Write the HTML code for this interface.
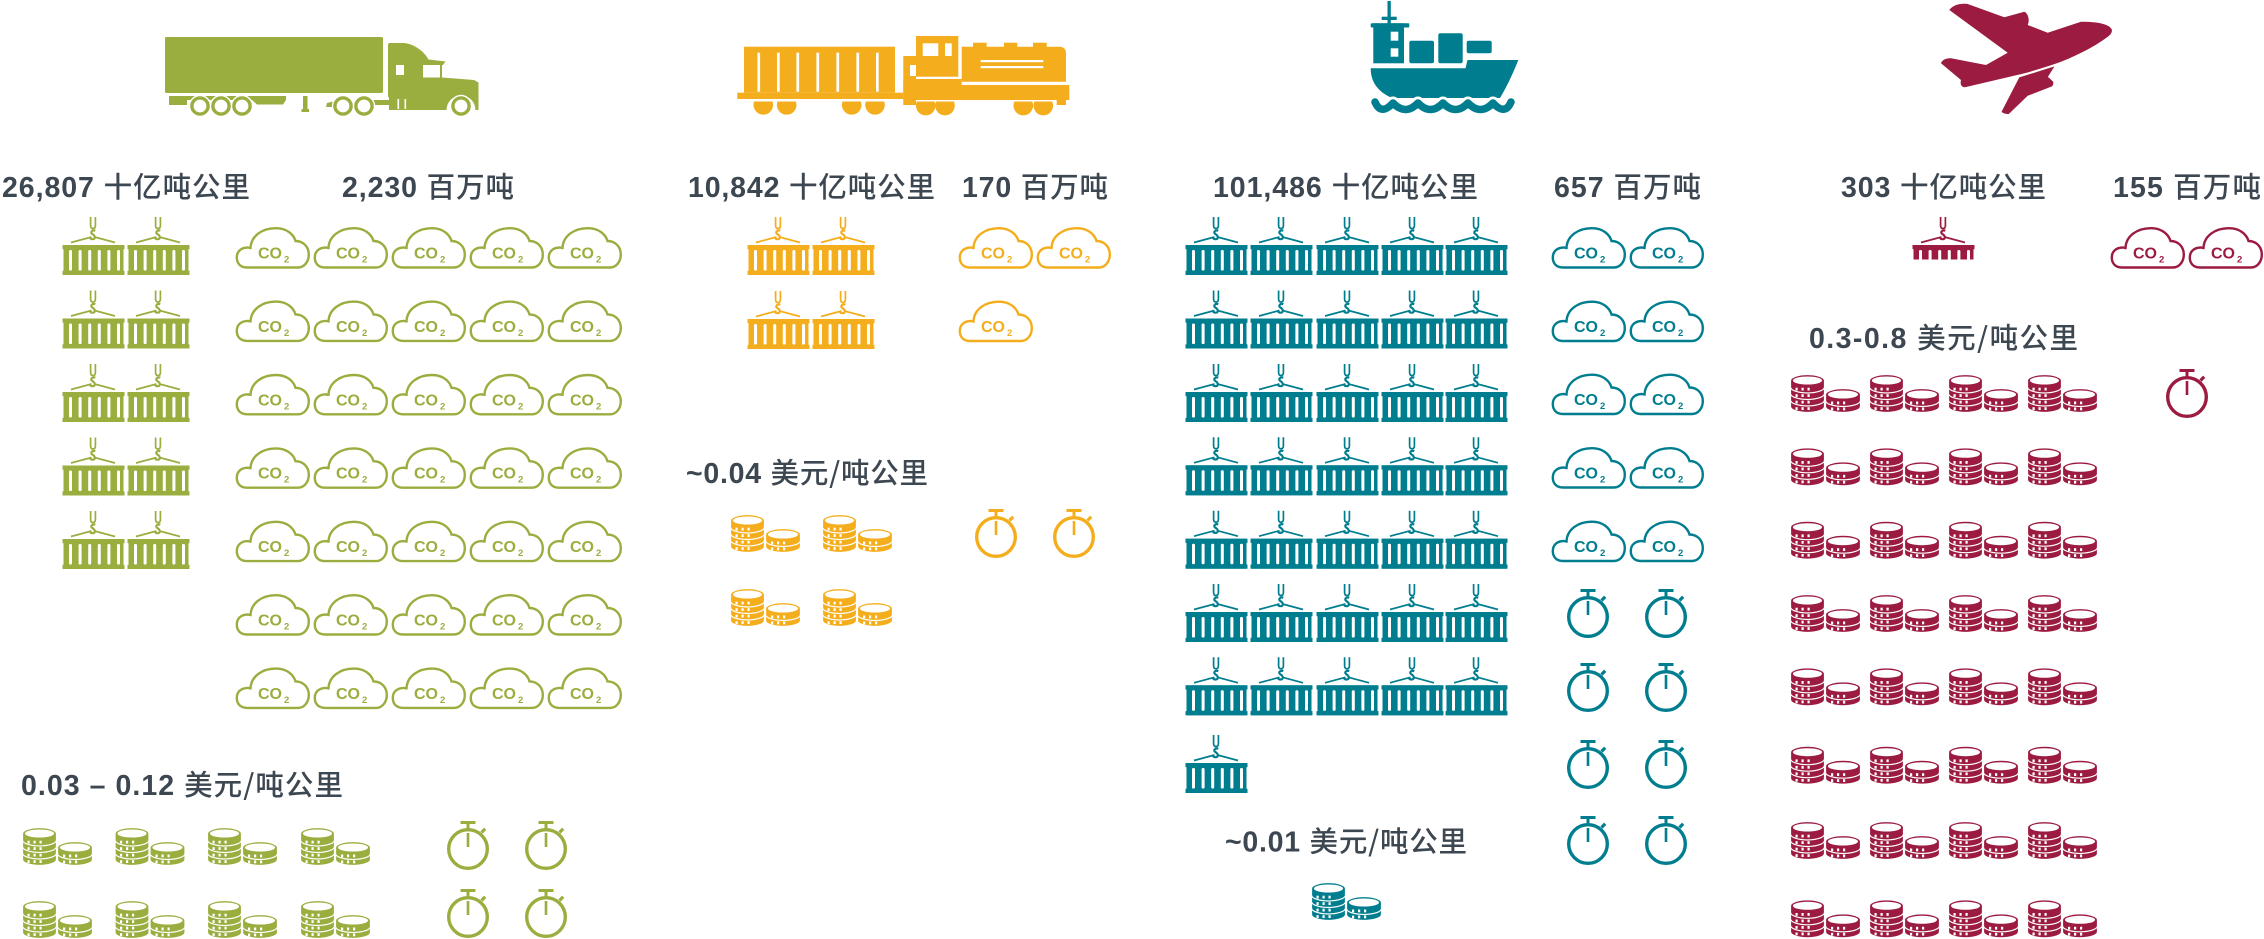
<!DOCTYPE html>
<html><head><meta charset="utf-8"><style>
html,body{margin:0;padding:0;background:#fff;}
svg{display:block}
.lbl{font-family:"Liberation Sans","Noto Sans CJK SC",sans-serif;font-size:28.5px;fill:#3d4751}
.n{font-weight:700;font-family:"Liberation Sans",sans-serif}
.c{font-family:"Noto Sans CJK SC","Liberation Sans",sans-serif;font-weight:500}
.co{font-family:"Liberation Sans",sans-serif;font-weight:700;font-size:16px;fill:currentColor}
.co tspan{font-size:9.5px}
.G{color:#9aae3f}.O{color:#f4ae1d}.T{color:#007e8f}.C{color:#9c1c41}
</style></head><body>
<svg width="2264" height="939" viewBox="0 0 2264 939" xmlns="http://www.w3.org/2000/svg">
<defs>
 <g id="ct">
  <path d="M27.6,0V8.5Q27.6,11.5 30,11.5Q32.4,11.5 32.4,8.5V0" fill="none" stroke="currentColor" stroke-width="1.7"/>
  <path d="M32.3,13.8C29.5,12.5 26.8,15.2 29.2,16.9C32.6,18.8 32.6,22.2 29.6,22.2C28,22.2 27,21.3 26.8,20.2" fill="none" stroke="currentColor" stroke-width="2.2"/>
  <path d="M28.5,20L8,25.5M31.5,20L52,25.5" stroke="currentColor" stroke-width="1.7"/>
  <rect x="0.5" y="28" width="60" height="30" fill="currentColor"/>
  <rect x="-0.5" y="28" width="62" height="4.2" fill="currentColor"/>
  <rect x="-0.5" y="53.8" width="62" height="4.2" fill="currentColor"/>
  <g fill="#fff">
   <rect x="6" y="33" width="3" height="20.5" rx="1.3"/>
   <rect x="15.6" y="33" width="3" height="20.5" rx="1.3"/>
   <rect x="25.2" y="33" width="3" height="20.5" rx="1.3"/>
   <rect x="34.8" y="33" width="3" height="20.5" rx="1.3"/>
   <rect x="44.4" y="33" width="3" height="20.5" rx="1.3"/>
   <rect x="54" y="33" width="3" height="20.5" rx="1.3"/>
  </g>
 </g>
 <path id="cl" d="M11,40.5C4,40.5 0.8,36 0.8,30.5C0.8,24.5 5,20.5 12,20.5C13,20.8 13.8,21 14.5,21C15,9 26,1.2 40,1.2C50.5,1.2 57.5,7 59.5,14C67.5,14 72.8,20 72.8,27.5C72.8,35 68,40.5 62,40.5Z" fill="none" stroke="currentColor" stroke-width="2.4"/>
 <g id="cn">
  <g fill="currentColor" stroke="#fff" stroke-width="1.2">
   <path d="M0.5,26V32.5A17,6 0 0 0 34.5,32.5V26A17,6 0 0 0 0.5,26Z"/>
   <path d="M0.5,19.5V26A17,6 0 0 0 34.5,26V19.5A17,6 0 0 0 0.5,19.5Z"/>
   <path d="M0.5,13V19.5A17,6 0 0 0 34.5,19.5V13A17,6 0 0 0 0.5,13Z"/>
   <path d="M0.5,6.5V13A17,6 0 0 0 34.5,13V6.5A17,6 0 0 0 0.5,6.5Z"/>
   <path d="M35.5,26.5V32.5A17.5,6 0 0 0 70.5,32.5V26.5A17.5,6 0 0 0 35.5,26.5Z"/>
   <path d="M35.5,20.5V26.5A17.5,6 0 0 0 70.5,26.5V20.5A17.5,6 0 0 0 35.5,20.5Z"/>
  </g>
  <ellipse cx="17.5" cy="6.5" rx="14.6" ry="4" fill="#fff"/>
  <ellipse cx="53" cy="20.5" rx="15.1" ry="4" fill="#fff"/>
  <g fill="#fff">
   <rect x="5.5" y="13.7" width="2.2" height="2.8"/><rect x="11.5" y="13.7" width="2.2" height="2.8"/><rect x="17.5" y="13.7" width="2.2" height="2.8"/>
   <rect x="5.5" y="20.2" width="2.2" height="2.8"/><rect x="11.5" y="20.2" width="2.2" height="2.8"/><rect x="17.5" y="20.2" width="2.2" height="2.8"/>
   <rect x="5.5" y="26.7" width="2.2" height="2.8"/><rect x="11.5" y="26.7" width="2.2" height="2.8"/><rect x="17.5" y="26.7" width="2.2" height="2.8"/>
   <rect x="5.5" y="33.2" width="2.2" height="2.8"/><rect x="11.5" y="33.2" width="2.2" height="2.8"/><rect x="17.5" y="33.2" width="2.2" height="2.8"/>
   <rect x="41" y="27.5" width="2.2" height="2.8"/><rect x="47" y="27.5" width="2.2" height="2.8"/><rect x="53" y="27.5" width="2.2" height="2.8"/>
   <rect x="41" y="33.5" width="2.2" height="2.8"/><rect x="47" y="33.5" width="2.2" height="2.8"/><rect x="53" y="33.5" width="2.2" height="2.8"/>
  </g>
 </g>
 <g id="sw">
  <circle cx="21" cy="28" r="19.3" fill="none" stroke="currentColor" stroke-width="3.4"/>
  <rect x="13.5" y="0" width="15" height="3" fill="currentColor"/>
  <rect x="19.5" y="2" width="3" height="7.5" fill="currentColor"/>
  <rect x="19.7" y="12" width="2.6" height="14" fill="currentColor"/>
  <path d="M34.5,11.5L38.2,7.8" stroke="currentColor" stroke-width="3.2"/>
 </g>
 <clipPath id="cp"><rect x="1900" y="200" width="100" height="59.5"/></clipPath>
</defs>

<!-- ===== TRUCK ===== -->
<g fill="#9aae3f">
 <rect x="165" y="37" width="218" height="56" rx="1.5"/>
 <rect x="169" y="96" width="117" height="4"/>
 <rect x="169" y="96" width="18" height="9"/>
 <path d="M252,100H286L283,104.5H257Z"/>
 <rect x="303" y="96" width="4.5" height="16"/>
 <rect x="301.5" y="109" width="7.5" height="3"/>
 <path d="M326,107L327,103L333,101.5L333,107Z"/>
 <rect x="372" y="100" width="17" height="5"/>
 <path d="M388,45Q388,43 390,43L404,43C414,44 424,51 428.5,59.5L445.5,61.5L443,65L442,65L442,77.5L474,80L478.5,82.5L478.5,110L475.5,110A14.5,14.5 0 0 0 446.5,110L414,110L414,97L388,97Z"/>
 <rect x="389" y="97" width="25" height="13"/>
</g>
<g fill="#fff">
 <rect x="396" y="65" width="8" height="10"/>
 <rect x="423" y="65" width="17" height="12.5"/>
 <rect x="397.5" y="99" width="1.6" height="10"/>
 <rect x="404.5" y="99" width="1.6" height="10"/>
 <circle cx="200" cy="106" r="11.2"/><circle cx="221" cy="106" r="11.2"/><circle cx="242" cy="106" r="11.2"/>
 <circle cx="343" cy="106" r="11.2"/><circle cx="364" cy="106" r="11.2"/><circle cx="461" cy="106" r="11.2"/>
</g>
<g fill="#fff" stroke="#9aae3f" stroke-width="3.4">
 <circle cx="200" cy="106" r="8.1"/><circle cx="221" cy="106" r="8.1"/><circle cx="242" cy="106" r="8.1"/>
 <circle cx="343" cy="106" r="8.1"/><circle cx="364" cy="106" r="8.1"/><circle cx="461" cy="106" r="8.1"/>
</g>

<!-- ===== TRAIN ===== -->
<g fill="#f4ae1d">
 <rect x="744" y="46.7" width="151" height="46"/>
 <rect x="737.3" y="92.7" width="166" height="6.3"/>
 <path d="M754.1,101.5A9.8,9.8 0 1 0 772.5,101.5Z"/>
 <path d="M777.5,101.5A9.8,9.8 0 1 0 795.9,101.5Z"/>
 <path d="M842.5,101.5A9.8,9.8 0 1 0 860.9,101.5Z"/>
 <path d="M865.8,101.5A9.8,9.8 0 1 0 884.2,101.5Z"/>
 <rect x="903.3" y="56" width="12.7" height="49"/>
 <rect x="916" y="36" width="42.3" height="40.7"/>
 <rect x="903.3" y="79" width="58.4" height="8"/>
 <path d="M961.7,46.7H1060A6,6 0 0 1 1066,52.7V81.7H961.7Z"/>
 <rect x="973" y="42.7" width="13.7" height="4.5"/>
 <rect x="1004" y="42.7" width="13.3" height="4.5"/>
 <rect x="1033" y="42.7" width="13.7" height="4.5"/>
 <rect x="903.3" y="85" width="166" height="15"/>
 <rect x="1056.7" y="99" width="9.3" height="6"/>
 <path d="M916.8,101.5A9.8,9.8 0 1 0 934.6,101.5Z"/>
 <path d="M936.1,101.5A9.8,9.8 0 1 0 953.9,101.5Z"/>
 <path d="M1014.4,101.5A9.8,9.8 0 1 0 1032.2,101.5Z"/>
 <path d="M1034.4,101.5A9.8,9.8 0 1 0 1052.2,101.5Z"/>
</g>
<g fill="#fff">
 <rect x="757.4" y="52.7" width="2.7" height="39"/><rect x="777" y="52.7" width="2.7" height="39"/>
 <rect x="796.4" y="52.7" width="2.7" height="39"/><rect x="816.4" y="52.7" width="2.7" height="39"/>
 <rect x="836.4" y="52.7" width="2.7" height="39"/><rect x="856.4" y="52.7" width="2.7" height="39"/>
 <rect x="876" y="52.7" width="2.7" height="39"/>
 <rect x="922.7" y="43.3" width="15.6" height="12.7"/>
 <rect x="945" y="43.3" width="6.7" height="12.7"/>
 <rect x="910" y="65" width="6" height="11"/>
 <rect x="980.7" y="60" width="62.6" height="2.2"/>
 <rect x="980.7" y="66" width="62.6" height="2.2"/>
</g>

<!-- ===== SHIP ===== -->
<g fill="#007e8f">
 <rect x="1387.5" y="1" width="3.3" height="24"/>
 <rect x="1381.7" y="16.7" width="15" height="3.3"/>
 <rect x="1370.7" y="23.3" width="38.6" height="4.2" rx="1"/>
 <rect x="1373.3" y="23.3" width="30.7" height="40"/>
 <rect x="1409.3" y="40.7" width="24.7" height="22.6" rx="2"/>
 <rect x="1438.3" y="33.3" width="24.4" height="30" rx="2"/>
 <rect x="1466.7" y="40.7" width="25" height="12.6" rx="2"/>
 <path d="M1370.7,68.3L1465.5,68.3L1467.5,60L1518.3,60C1512,76 1506,88 1500,98L1392,98C1378,92 1370.7,82 1370.7,68.3Z"/>
</g>
<g fill="#fff">
 <rect x="1390.7" y="31.7" width="7.6" height="9"/>
 <rect x="1390.7" y="48.3" width="7.6" height="8.4"/>
</g>
<path d="M1375,102Q1381,116 1393,103Q1405.5,116 1418,103Q1430.5,116 1443,103Q1455.5,116 1468,103Q1480.5,116 1493,103Q1505,116 1511,102" fill="none" stroke="#fff" stroke-width="13" stroke-linecap="round" stroke-linejoin="round"/>
<path d="M1375,102Q1381,116 1393,103Q1405.5,116 1418,103Q1430.5,116 1443,103Q1455.5,116 1468,103Q1480.5,116 1493,103Q1505,116 1511,102" fill="none" stroke="#007e8f" stroke-width="7.5" stroke-linecap="round" stroke-linejoin="round"/>

<!-- ===== PLANE ===== -->
<path fill="#9c1c41" d="M2111.7,29.3C2110,25 2100,21.5 2081,21.7L2047.7,32.7L2027.7,25C2030,20 2028,13 2024.3,11.7L2004.3,17.3L1967.7,4C1960,3 1953,5 1949.3,10L2007.7,52.7L1986,65L1951,58.3C1946,58 1942,60 1941,63.3L1961,80C1960,84 1961,87 1965,87.3L2031,71.7C2060,64 2090,50 2106,38C2111,35 2112.5,32 2111.7,29.3Z"/>
<path fill="#9c1c41" stroke="#fff" stroke-width="2.2" d="M2041,69.5L2018.5,76.5L2000.3,111.7C2001,114 2006,115.5 2009.3,115L2028.3,96.7L2052.7,87.3C2055,85 2055,81 2053,80L2049.3,76.7L2057,64.5Z"/>

<!-- ===== LABELS ===== -->
<text class="lbl" x="2" y="197" textLength="248" lengthAdjust="spacing"><tspan class="n">26,807 </tspan><tspan class="c">十亿吨公里</tspan></text>
<text class="lbl" x="342" y="197" textLength="172" lengthAdjust="spacing"><tspan class="n">2,230 </tspan><tspan class="c">百万吨</tspan></text>
<text class="lbl" x="688" y="197" textLength="247" lengthAdjust="spacing"><tspan class="n">10,842 </tspan><tspan class="c">十亿吨公里</tspan></text>
<text class="lbl" x="962" y="197" textLength="146" lengthAdjust="spacing"><tspan class="n">170 </tspan><tspan class="c">百万吨</tspan></text>
<text class="lbl" x="1213" y="197" textLength="265" lengthAdjust="spacing"><tspan class="n">101,486 </tspan><tspan class="c">十亿吨公里</tspan></text>
<text class="lbl" x="1554" y="197" textLength="147" lengthAdjust="spacing"><tspan class="n">657 </tspan><tspan class="c">百万吨</tspan></text>
<text class="lbl" x="1841" y="197" textLength="205" lengthAdjust="spacing"><tspan class="n">303 </tspan><tspan class="c">十亿吨公里</tspan></text>
<text class="lbl" x="2113" y="197" textLength="148" lengthAdjust="spacing"><tspan class="n">155 </tspan><tspan class="c">百万吨</tspan></text>
<text class="lbl" x="21" y="795" textLength="322" lengthAdjust="spacing"><tspan class="n">0.03 – 0.12 </tspan><tspan class="c">美元/吨公里</tspan></text>
<text class="lbl" x="686" y="483" textLength="242" lengthAdjust="spacing"><tspan class="n">~0.04 </tspan><tspan class="c">美元/吨公里</tspan></text>
<text class="lbl" x="1225" y="851.5" textLength="242" lengthAdjust="spacing"><tspan class="n">~0.01 </tspan><tspan class="c">美元/吨公里</tspan></text>
<text class="lbl" x="1809" y="348" textLength="269" lengthAdjust="spacing"><tspan class="n">0.3-0.8 </tspan><tspan class="c">美元/吨公里</tspan></text>

<!-- ===== CONTAINERS ===== -->
<g class="G">
 <use href="#ct" x="63" y="217"/><use href="#ct" x="128" y="217"/>
 <use href="#ct" x="63" y="290.5"/><use href="#ct" x="128" y="290.5"/>
 <use href="#ct" x="63" y="364"/><use href="#ct" x="128" y="364"/>
 <use href="#ct" x="63" y="437.5"/><use href="#ct" x="128" y="437.5"/>
 <use href="#ct" x="63" y="511"/><use href="#ct" x="128" y="511"/>
</g>
<g class="O">
 <use href="#ct" x="748" y="217"/><use href="#ct" x="813" y="217"/>
 <use href="#ct" x="748" y="291"/><use href="#ct" x="813" y="291"/>
</g>
<g class="T">
 <use href="#ct" x="1186" y="217"/><use href="#ct" x="1251" y="217"/><use href="#ct" x="1317" y="217"/><use href="#ct" x="1382" y="217"/><use href="#ct" x="1446" y="217"/>
 <use href="#ct" x="1186" y="290.5"/><use href="#ct" x="1251" y="290.5"/><use href="#ct" x="1317" y="290.5"/><use href="#ct" x="1382" y="290.5"/><use href="#ct" x="1446" y="290.5"/>
 <use href="#ct" x="1186" y="364"/><use href="#ct" x="1251" y="364"/><use href="#ct" x="1317" y="364"/><use href="#ct" x="1382" y="364"/><use href="#ct" x="1446" y="364"/>
 <use href="#ct" x="1186" y="437.3"/><use href="#ct" x="1251" y="437.3"/><use href="#ct" x="1317" y="437.3"/><use href="#ct" x="1382" y="437.3"/><use href="#ct" x="1446" y="437.3"/>
 <use href="#ct" x="1186" y="510.7"/><use href="#ct" x="1251" y="510.7"/><use href="#ct" x="1317" y="510.7"/><use href="#ct" x="1382" y="510.7"/><use href="#ct" x="1446" y="510.7"/>
 <use href="#ct" x="1186" y="584"/><use href="#ct" x="1251" y="584"/><use href="#ct" x="1317" y="584"/><use href="#ct" x="1382" y="584"/><use href="#ct" x="1446" y="584"/>
 <use href="#ct" x="1186" y="657.3"/><use href="#ct" x="1251" y="657.3"/><use href="#ct" x="1317" y="657.3"/><use href="#ct" x="1382" y="657.3"/><use href="#ct" x="1446" y="657.3"/>
 <use href="#ct" x="1186" y="735"/>
</g>
<g class="C" clip-path="url(#cp)"><use href="#ct" x="1913" y="217"/></g>

<!-- ===== CLOUDS ===== -->
<g class="G">
 <g transform="translate(236,227)"><use href="#cl"/><text class="co" x="22" y="31.5">CO<tspan dx="2" dy="4">2</tspan></text></g>
 <g transform="translate(314,227)"><use href="#cl"/><text class="co" x="22" y="31.5">CO<tspan dx="2" dy="4">2</tspan></text></g>
 <g transform="translate(392,227)"><use href="#cl"/><text class="co" x="22" y="31.5">CO<tspan dx="2" dy="4">2</tspan></text></g>
 <g transform="translate(470,227)"><use href="#cl"/><text class="co" x="22" y="31.5">CO<tspan dx="2" dy="4">2</tspan></text></g>
 <g transform="translate(548,227)"><use href="#cl"/><text class="co" x="22" y="31.5">CO<tspan dx="2" dy="4">2</tspan></text></g>
 <g transform="translate(236,300.4)"><use href="#cl"/><text class="co" x="22" y="31.5">CO<tspan dx="2" dy="4">2</tspan></text></g>
 <g transform="translate(314,300.4)"><use href="#cl"/><text class="co" x="22" y="31.5">CO<tspan dx="2" dy="4">2</tspan></text></g>
 <g transform="translate(392,300.4)"><use href="#cl"/><text class="co" x="22" y="31.5">CO<tspan dx="2" dy="4">2</tspan></text></g>
 <g transform="translate(470,300.4)"><use href="#cl"/><text class="co" x="22" y="31.5">CO<tspan dx="2" dy="4">2</tspan></text></g>
 <g transform="translate(548,300.4)"><use href="#cl"/><text class="co" x="22" y="31.5">CO<tspan dx="2" dy="4">2</tspan></text></g>
 <g transform="translate(236,373.8)"><use href="#cl"/><text class="co" x="22" y="31.5">CO<tspan dx="2" dy="4">2</tspan></text></g>
 <g transform="translate(314,373.8)"><use href="#cl"/><text class="co" x="22" y="31.5">CO<tspan dx="2" dy="4">2</tspan></text></g>
 <g transform="translate(392,373.8)"><use href="#cl"/><text class="co" x="22" y="31.5">CO<tspan dx="2" dy="4">2</tspan></text></g>
 <g transform="translate(470,373.8)"><use href="#cl"/><text class="co" x="22" y="31.5">CO<tspan dx="2" dy="4">2</tspan></text></g>
 <g transform="translate(548,373.8)"><use href="#cl"/><text class="co" x="22" y="31.5">CO<tspan dx="2" dy="4">2</tspan></text></g>
 <g transform="translate(236,447.2)"><use href="#cl"/><text class="co" x="22" y="31.5">CO<tspan dx="2" dy="4">2</tspan></text></g>
 <g transform="translate(314,447.2)"><use href="#cl"/><text class="co" x="22" y="31.5">CO<tspan dx="2" dy="4">2</tspan></text></g>
 <g transform="translate(392,447.2)"><use href="#cl"/><text class="co" x="22" y="31.5">CO<tspan dx="2" dy="4">2</tspan></text></g>
 <g transform="translate(470,447.2)"><use href="#cl"/><text class="co" x="22" y="31.5">CO<tspan dx="2" dy="4">2</tspan></text></g>
 <g transform="translate(548,447.2)"><use href="#cl"/><text class="co" x="22" y="31.5">CO<tspan dx="2" dy="4">2</tspan></text></g>
 <g transform="translate(236,520.6)"><use href="#cl"/><text class="co" x="22" y="31.5">CO<tspan dx="2" dy="4">2</tspan></text></g>
 <g transform="translate(314,520.6)"><use href="#cl"/><text class="co" x="22" y="31.5">CO<tspan dx="2" dy="4">2</tspan></text></g>
 <g transform="translate(392,520.6)"><use href="#cl"/><text class="co" x="22" y="31.5">CO<tspan dx="2" dy="4">2</tspan></text></g>
 <g transform="translate(470,520.6)"><use href="#cl"/><text class="co" x="22" y="31.5">CO<tspan dx="2" dy="4">2</tspan></text></g>
 <g transform="translate(548,520.6)"><use href="#cl"/><text class="co" x="22" y="31.5">CO<tspan dx="2" dy="4">2</tspan></text></g>
 <g transform="translate(236,594)"><use href="#cl"/><text class="co" x="22" y="31.5">CO<tspan dx="2" dy="4">2</tspan></text></g>
 <g transform="translate(314,594)"><use href="#cl"/><text class="co" x="22" y="31.5">CO<tspan dx="2" dy="4">2</tspan></text></g>
 <g transform="translate(392,594)"><use href="#cl"/><text class="co" x="22" y="31.5">CO<tspan dx="2" dy="4">2</tspan></text></g>
 <g transform="translate(470,594)"><use href="#cl"/><text class="co" x="22" y="31.5">CO<tspan dx="2" dy="4">2</tspan></text></g>
 <g transform="translate(548,594)"><use href="#cl"/><text class="co" x="22" y="31.5">CO<tspan dx="2" dy="4">2</tspan></text></g>
 <g transform="translate(236,667.4)"><use href="#cl"/><text class="co" x="22" y="31.5">CO<tspan dx="2" dy="4">2</tspan></text></g>
 <g transform="translate(314,667.4)"><use href="#cl"/><text class="co" x="22" y="31.5">CO<tspan dx="2" dy="4">2</tspan></text></g>
 <g transform="translate(392,667.4)"><use href="#cl"/><text class="co" x="22" y="31.5">CO<tspan dx="2" dy="4">2</tspan></text></g>
 <g transform="translate(470,667.4)"><use href="#cl"/><text class="co" x="22" y="31.5">CO<tspan dx="2" dy="4">2</tspan></text></g>
 <g transform="translate(548,667.4)"><use href="#cl"/><text class="co" x="22" y="31.5">CO<tspan dx="2" dy="4">2</tspan></text></g>
</g>
<g class="O">
 <g transform="translate(959,227)"><use href="#cl"/><text class="co" x="22" y="31.5">CO<tspan dx="2" dy="4">2</tspan></text></g>
 <g transform="translate(1037,227)"><use href="#cl"/><text class="co" x="22" y="31.5">CO<tspan dx="2" dy="4">2</tspan></text></g>
 <g transform="translate(959,300.5)"><use href="#cl"/><text class="co" x="22" y="31.5">CO<tspan dx="2" dy="4">2</tspan></text></g>
</g>
<g class="T">
 <g transform="translate(1552,227)"><use href="#cl"/><text class="co" x="22" y="31.5">CO<tspan dx="2" dy="4">2</tspan></text></g>
 <g transform="translate(1630,227)"><use href="#cl"/><text class="co" x="22" y="31.5">CO<tspan dx="2" dy="4">2</tspan></text></g>
 <g transform="translate(1552,300.5)"><use href="#cl"/><text class="co" x="22" y="31.5">CO<tspan dx="2" dy="4">2</tspan></text></g>
 <g transform="translate(1630,300.5)"><use href="#cl"/><text class="co" x="22" y="31.5">CO<tspan dx="2" dy="4">2</tspan></text></g>
 <g transform="translate(1552,373.5)"><use href="#cl"/><text class="co" x="22" y="31.5">CO<tspan dx="2" dy="4">2</tspan></text></g>
 <g transform="translate(1630,373.5)"><use href="#cl"/><text class="co" x="22" y="31.5">CO<tspan dx="2" dy="4">2</tspan></text></g>
 <g transform="translate(1552,447)"><use href="#cl"/><text class="co" x="22" y="31.5">CO<tspan dx="2" dy="4">2</tspan></text></g>
 <g transform="translate(1630,447)"><use href="#cl"/><text class="co" x="22" y="31.5">CO<tspan dx="2" dy="4">2</tspan></text></g>
 <g transform="translate(1552,520.5)"><use href="#cl"/><text class="co" x="22" y="31.5">CO<tspan dx="2" dy="4">2</tspan></text></g>
 <g transform="translate(1630,520.5)"><use href="#cl"/><text class="co" x="22" y="31.5">CO<tspan dx="2" dy="4">2</tspan></text></g>
</g>
<g class="C">
 <g transform="translate(2111,227)"><use href="#cl"/><text class="co" x="22" y="31.5">CO<tspan dx="2" dy="4">2</tspan></text></g>
 <g transform="translate(2189,227)"><use href="#cl"/><text class="co" x="22" y="31.5">CO<tspan dx="2" dy="4">2</tspan></text></g>
</g>

<!-- ===== COINS ===== -->
<g class="G">
 <use href="#cn" x="22" y="827"/><use href="#cn" x="114.5" y="827"/><use href="#cn" x="207" y="827"/><use href="#cn" x="300" y="827"/>
 <use href="#cn" x="22" y="900"/><use href="#cn" x="114.5" y="900"/><use href="#cn" x="207" y="900"/><use href="#cn" x="300" y="900"/>
</g>
<g class="O">
 <use href="#cn" x="730" y="514"/><use href="#cn" x="822" y="514"/>
 <use href="#cn" x="730" y="588"/><use href="#cn" x="822" y="588"/>
</g>
<g class="T"><use href="#cn" x="1311" y="882"/></g>
<g class="C">
 <use href="#cn" x="1790" y="374"/><use href="#cn" x="1869" y="374"/><use href="#cn" x="1948" y="374"/><use href="#cn" x="2027" y="374"/>
 <use href="#cn" x="1790" y="447.3"/><use href="#cn" x="1869" y="447.3"/><use href="#cn" x="1948" y="447.3"/><use href="#cn" x="2027" y="447.3"/>
 <use href="#cn" x="1790" y="520.7"/><use href="#cn" x="1869" y="520.7"/><use href="#cn" x="1948" y="520.7"/><use href="#cn" x="2027" y="520.7"/>
 <use href="#cn" x="1790" y="594"/><use href="#cn" x="1869" y="594"/><use href="#cn" x="1948" y="594"/><use href="#cn" x="2027" y="594"/>
 <use href="#cn" x="1790" y="667.3"/><use href="#cn" x="1869" y="667.3"/><use href="#cn" x="1948" y="667.3"/><use href="#cn" x="2027" y="667.3"/>
 <use href="#cn" x="1790" y="745.7"/><use href="#cn" x="1869" y="745.7"/><use href="#cn" x="1948" y="745.7"/><use href="#cn" x="2027" y="745.7"/>
 <use href="#cn" x="1790" y="821"/><use href="#cn" x="1869" y="821"/><use href="#cn" x="1948" y="821"/><use href="#cn" x="2027" y="821"/>
 <use href="#cn" x="1790" y="899.3"/><use href="#cn" x="1869" y="899.3"/><use href="#cn" x="1948" y="899.3"/><use href="#cn" x="2027" y="899.3"/>
</g>

<!-- ===== STOPWATCHES ===== -->
<g class="G">
 <use href="#sw" x="447" y="821"/><use href="#sw" x="525" y="821"/>
 <use href="#sw" x="447" y="889"/><use href="#sw" x="525" y="889"/>
</g>
<g class="O">
 <use href="#sw" x="975" y="509"/><use href="#sw" x="1053" y="509"/>
</g>
<g class="T">
 <use href="#sw" x="1567" y="589"/><use href="#sw" x="1645" y="589"/>
 <use href="#sw" x="1567" y="663"/><use href="#sw" x="1645" y="663"/>
 <use href="#sw" x="1567" y="740"/><use href="#sw" x="1645" y="740"/>
 <use href="#sw" x="1567" y="816"/><use href="#sw" x="1645" y="816"/>
</g>
<g class="C"><use href="#sw" x="2166" y="369"/></g>
</svg>
</body></html>
